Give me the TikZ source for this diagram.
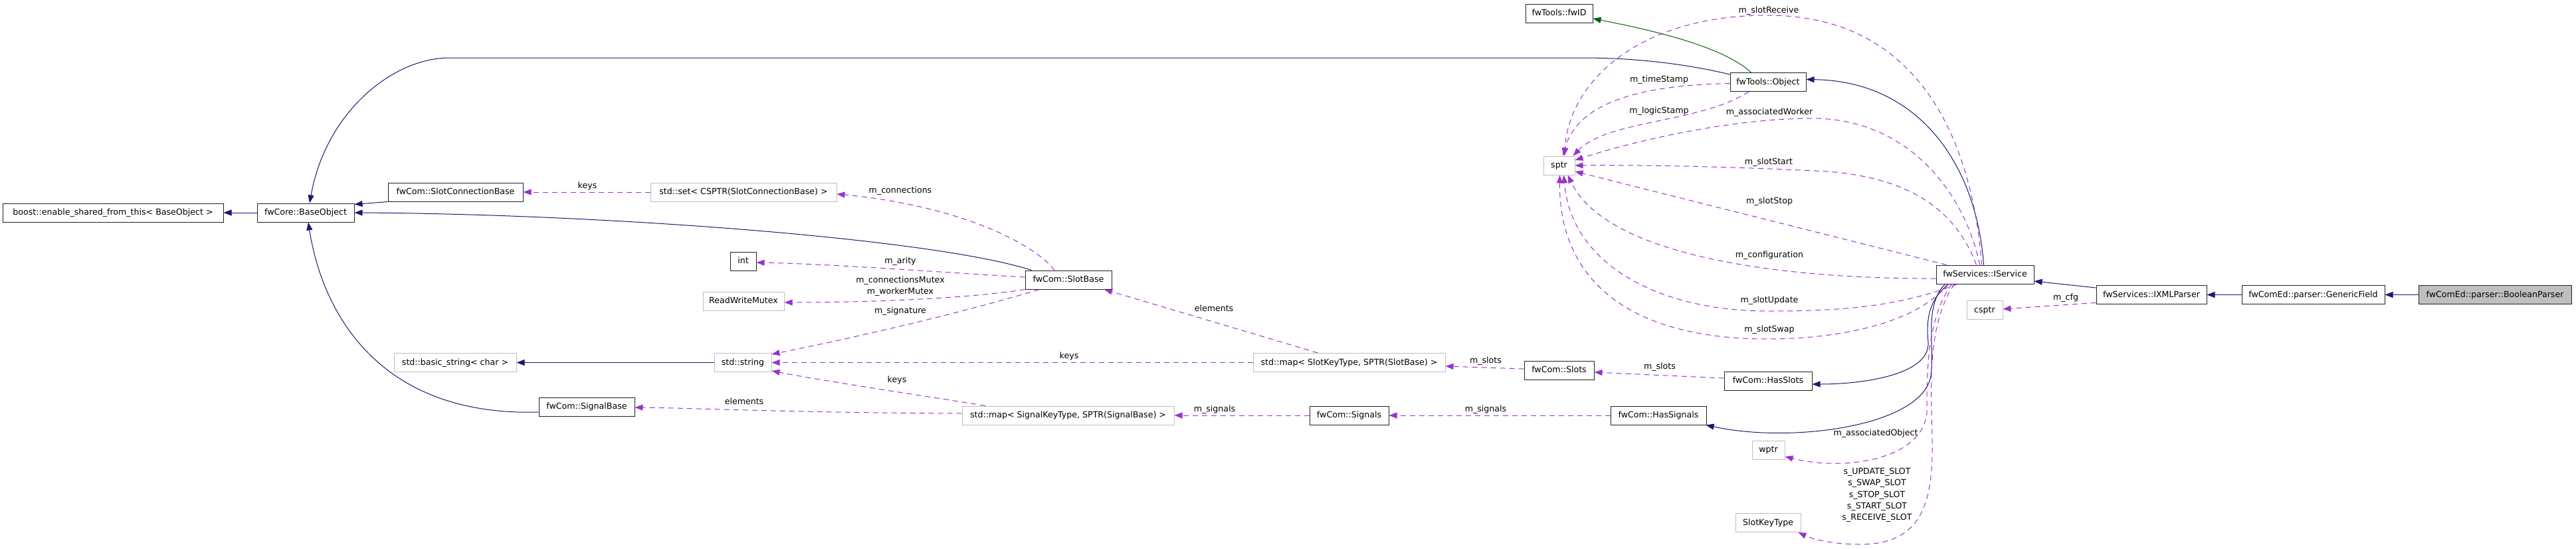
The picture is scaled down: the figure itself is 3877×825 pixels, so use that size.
\documentclass[tikz,border=0pt]{standalone}
\usepackage{fontspec}
\setmainfont{DejaVu Sans}
\usetikzlibrary{arrows.meta}
\definecolor{navy}{HTML}{191970}
\definecolor{orchid}{HTML}{9A32CD}
\definecolor{dgreen}{HTML}{006400}
\definecolor{gbord}{HTML}{BFBFBF}
\definecolor{gfill}{HTML}{BFBFBF}
\definecolor{bbord}{HTML}{202020}
\pgfdeclarelayer{bg}
\pgfsetlayers{bg,main}
\begin{document}
\begin{tikzpicture}[x=1pt,y=-1pt,
  every node/.style={font=\fontsize{12.6}{17.3}\selectfont},
  cls/.style={draw=bbord, line width=1pt, fill=white, minimum height=28pt, inner sep=0pt, text height=9.5pt, text depth=2.5pt},
  ext/.style={cls, draw=gbord},
  lbl/.style={inner sep=0pt, align=center},
  tipk/.style={-{Triangle[length=12pt,width=9pt]}},
  inh/.style={draw=navy, line width=1pt, tipk},
  inhg/.style={draw=dgreen, line width=1pt, tipk},
  use/.style={draw=orchid, line width=1pt, dash pattern=on 8pt off 6pt, tipk}
]
\useasboundingbox (0,0) rectangle (3877,825);
% ---------- class nodes ----------
\node[cls, minimum width=332pt] (boost) at (170,320) {boost::enable\_shared\_from\_this< BaseObject >};
\node[cls, minimum width=146pt] (baseobj) at (460,320) {fwCore::BaseObject};
\node[cls, minimum width=203pt] (slotconn) at (685.5,289) {fwCom::SlotConnectionBase};
\node[ext, minimum width=280pt] (setconn) at (1119,289) {std::set< CSPTR(SlotConnectionBase) >};
\node[cls, minimum width=39pt] (intn) at (1118.5,393) {int};
\node[ext, minimum width=122pt] (rwmutex) at (1119,453) {ReadWriteMutex};
\node[cls, minimum width=130pt] (slotbase) at (1608,421) {fwCom::SlotBase};
\node[ext, minimum width=184pt] (basicstr) at (685,545.5) {std::basic\_string< char >};
\node[ext, minimum width=86pt] (stdstring) at (1118,545.5) {std::string};
\node[cls, minimum width=144pt] (signalbase) at (883,612) {fwCom::SignalBase};
\node[ext, minimum width=289pt] (mapslot) at (2030.5,545.5) {std::map< SlotKeyType, SPTR(SlotBase) >};
\node[ext, minimum width=319pt] (mapsignal) at (1607.5,625) {std::map< SignalKeyType, SPTR(SignalBase) >};
\node[cls, minimum width=119pt] (signals) at (2030.5,625) {fwCom::Signals};
\node[cls, minimum width=105pt] (slots) at (2346.5,557) {fwCom::Slots};
\node[cls, minimum width=132pt] (hasslots) at (2661,573) {fwCom::HasSlots};
\node[cls, minimum width=144pt] (hassignals) at (2496,625) {fwCom::HasSignals};
\node[cls, minimum width=101pt] (fwid) at (2346.5,20) {fwTools::fwID};
\node[cls, minimum width=114pt] (object) at (2661,123.5) {fwTools::Object};
\node[ext, minimum width=47pt] (sptr) at (2346.5,249) {sptr};
\node[cls, minimum width=147pt] (iservice) at (2987.5,413) {fwServices::IService};
\node[ext, minimum width=49pt] (wptr) at (2661.5,677) {wptr};
\node[ext, minimum width=98pt] (slotkeytype) at (2661,786.5) {SlotKeyType};
\node[ext, minimum width=54pt] (csptr) at (2987,466.5) {csptr};
\node[cls, minimum width=166pt] (ixml) at (3238,443.5) {fwServices::IXMLParser};
\node[cls, minimum width=215pt] (generic) at (3481.5,443.5) {fwComEd::parser::GenericField};
\node[cls, minimum width=230pt, fill=gfill] (boolean) at (3755,443.5) {fwComEd::parser::BooleanParser};
% ---------- edge labels ----------
\node[lbl] (l1) at (884,280) {keys};
\node[lbl] (l2) at (1355,287) {m\_connections};
\node[lbl] (l3) at (1355,393) {m\_arity};
\node[lbl] (l4) at (1355,431) {m\_connectionsMutex\\m\_workerMutex};
\node[lbl] (l5) at (1355,468) {m\_signature};
\node[lbl] (l6) at (1827,464) {elements};
\node[lbl] (l7) at (1609,536) {keys};
\node[lbl] (l8) at (1350,572) {keys};
\node[lbl] (l9) at (1120,604) {elements};
\node[lbl] (l10) at (1828,616) {m\_signals};
\node[lbl] (l11) at (2236,616) {m\_signals};
\node[lbl] (l12) at (2236,543) {m\_slots};
\node[lbl] (l13) at (2498,552) {m\_slots};
\node[lbl] (l14) at (2662,16) {m\_slotReceive};
\node[lbl] (l15) at (2497,120) {m\_timeStamp};
\node[lbl] (l16) at (2497,167) {m\_logicStamp};
\node[lbl] (l17) at (2663,169) {m\_associatedWorker};
\node[lbl] (l18) at (2662,244) {m\_slotStart};
\node[lbl] (l19) at (2663,303) {m\_slotStop};
\node[lbl] (l20) at (2663,384) {m\_configuration};
\node[lbl] (l21) at (2663,452) {m\_slotUpdate};
\node[lbl] (l22) at (2663,496) {m\_slotSwap};
\node[lbl] (l23) at (2823,652) {m\_associatedObject};
\node[lbl] (l24) at (2825,745) {s\_UPDATE\_SLOT\\s\_SWAP\_SLOT\\s\_STOP\_SLOT\\s\_START\_SLOT\\s\_RECEIVE\_SLOT};
\node[lbl] (l25) at (3109,448) {m\_cfg};
\begin{pgfonlayer}{bg}
% ---------- inheritance ----------
\draw[inh] (baseobj) -- (boost);
\draw[inh] (slotconn.south west) -- ([yshift=-2pt]baseobj.north east);
\draw[inh] ([xshift=10pt]slotbase.north west) .. controls (1400,358) and (900,322) .. (baseobj.east);
\draw[inh] ([yshift=-8pt]signalbase.west) .. controls (570,627) and (485,470) .. ([xshift=4pt]baseobj.south);
\draw[inh] ([yshift=-3pt]object.north west) .. controls (2520,92) and (2440,87) .. (2380,87) -- (677,87) .. controls (590,87) and (490,170) .. ([xshift=6pt]baseobj.north);
\draw[inhg] ([xshift=32pt]object.north west) .. controls (2595,72) and (2500,48) .. ([yshift=-8pt]fwid.east);
\draw[inh] (stdstring) -- (basicstr);
\draw[inh] ([xshift=-2pt]iservice.north) .. controls (2975,250) and (2890,122) .. ([yshift=4pt]object.east);
\draw[inh] ([xshift=-55pt]iservice.south) .. controls (2898,455) and (2900,490) .. (2902,515) .. controls (2905,565) and (2800,578) .. ([yshift=-5pt]hasslots.east);
\draw[inh] ([xshift=-60pt]iservice.south) .. controls (2895,460) and (2912,520) .. (2906,565) .. controls (2895,640) and (2700,668) .. ([xshift=-1pt]hassignals.south east);
\draw[inh] ([yshift=-4pt]ixml.north west) -- ([yshift=-10pt]iservice.east);
\draw[inh] (generic) -- (ixml);
\draw[inh] (boolean) -- (generic);
% ---------- usage ----------
\draw[use] (setconn) -- (slotconn);
\draw[use] ([xshift=-21pt]slotbase.north) .. controls (1550,360) and (1430,308) .. ([yshift=-3pt]setconn.east);
\draw[use] ([yshift=4pt]slotbase.west) .. controls (1420,410) and (1250,397) .. ([yshift=-2pt]intn.east);
\draw[use] (slotbase.south west) .. controls (1450,450) and (1300,455) .. ([yshift=-2pt]rwmutex.east);
\draw[use] ([xshift=-44pt]slotbase.south) .. controls (1450,470) and (1300,505) .. ([yshift=-2pt]stdstring.north east);
\draw[use] ([xshift=-47pt]mapslot.north) -- ([xshift=54pt]slotbase.south);
\draw[use] (mapslot) -- (stdstring);
\draw[use] ([xshift=-124.5pt]mapsignal.north) .. controls (1420,600) and (1250,575) .. ([yshift=2pt]stdstring.south east);
\draw[use] ([yshift=3pt]mapsignal.west) .. controls (1200,621) and (1050,614) .. ([yshift=-1pt]signalbase.east);
\draw[use] (signals) -- (mapsignal);
\draw[use] (hassignals) -- (signals);
\draw[use] ([yshift=2pt]slots.west) -- ([yshift=-5.5pt]mapslot.east);
\draw[use] ([yshift=4pt]hasslots.west) -- ([yshift=-3pt]slots.east);
\draw[use] ([yshift=-2pt]object.west) .. controls (2480,128) and (2375,150) .. ([xshift=6pt]sptr.north);
\draw[use] ([xshift=-29pt]object.south) .. controls (2560,185) and (2420,180) .. ([xshift=-3pt]sptr.north east);
\draw[use] ([xshift=-5pt]iservice.north) .. controls (2970,230) and (2900,23) .. (2660,23) .. controls (2470,23) and (2362,120) .. ([xshift=8pt]sptr.north);
\draw[use] ([xshift=-8pt]iservice.north) .. controls (2960,300) and (2880,180) .. (2730,178) .. controls (2600,178) and (2450,215) .. ([yshift=8pt]sptr.east);
\draw[use] ([xshift=-13pt]iservice.north) .. controls (2945,320) and (2880,268) .. (2750,258) .. controls (2600,250) and (2450,248) .. (sptr.east);
\draw[use] ([xshift=-58pt]iservice.north) -- ([yshift=-9pt]sptr.east);
\draw[use] ([yshift=-6pt]iservice.west) .. controls (2700,420) and (2420,390) .. ([xshift=13pt]sptr.south);
\draw[use] ([xshift=-42pt]iservice.south) .. controls (2850,465) and (2750,468) .. (2660,468) .. controls (2500,468) and (2365,400) .. ([xshift=7pt]sptr.south);
\draw[use] ([xshift=-55pt]iservice.south) .. controls (2880,490) and (2760,510) .. (2660,510) .. controls (2450,510) and (2346,420) .. ([xshift=1pt]sptr.south);
\draw[use] ([xshift=-50pt]iservice.south) .. controls (2900,480) and (2900,560) .. (2900,620) .. controls (2895,690) and (2780,710) .. ([yshift=-10pt]wptr.east);
\draw[use] ([xshift=-46pt]iservice.south) .. controls (2905,480) and (2906,560) .. (2907,620) .. controls (2910,720) and (2915,819) .. (2800,819) .. controls (2760,819) and (2730,812) .. ([xshift=-4pt]slotkeytype.south east);
\draw[use] ([yshift=-12pt]ixml.west) -- ([yshift=1.5pt]csptr.east);
\end{pgfonlayer}
\end{tikzpicture}
\end{document}
